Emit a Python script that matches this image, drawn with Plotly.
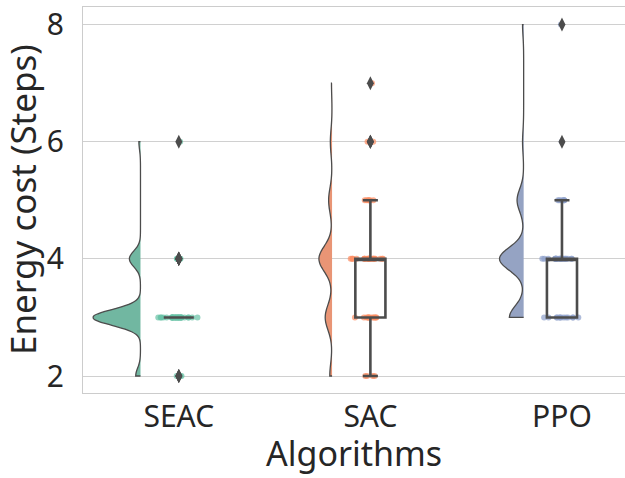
import numpy as np
import plotly.graph_objects as go

# ---- data ----
algorithms = ["SEAC", "SAC", "PPO"]
levels = [2, 3, 4, 5, 6, 7, 8]
seac_counts = [3, 30, 7, 0, 1, 0, 0]
sac_counts = [4, 12, 23, 6, 3, 1, 0]
ppo_counts = [0, 13, 22, 6, 1, 0, 1]
y_ticks = [2, 4, 6, 8]

# ---- styles ----
point_colors = ["#66c2a5", "#fc8d62", "#8da0cb"]
violin_fill = ["#71b7a1", "#e99575", "#95a3c3"]
violin_half = [0.245, 0.068, 0.125]
dark = "#4c4c4c"
grid = "#d0d0d0"
FONT = "Noto Sans"

samples = [np.repeat(levels, c).astype(float) for c in (seac_counts, sac_counts, ppo_counts)]

fig = go.Figure()

for i, (name, vals) in enumerate(zip(algorithms, samples)):
    bw = 0.2 * np.std(vals, ddof=1)
    fig.add_trace(go.Violin(
        x=np.full(len(vals), i - 0.2), y=vals, name=name,
        side="negative", spanmode="hard", bandwidth=bw,
        scalemode="width", width=2 * violin_half[i],
        fillcolor=violin_fill[i], opacity=1,
        line=dict(color=dark, width=1.3),
        points=False, box_visible=False, meanline_visible=False,
        showlegend=False, hoverinfo="skip",
    ))

for i, (name, vals) in enumerate(zip(algorithms, samples)):
    fig.add_trace(go.Box(
        x=np.full(len(vals), float(i)), y=vals, name=name,
        boxpoints="all", jitter=1, pointpos=0, width=0.22,
        fillcolor="rgba(0,0,0,0)", line=dict(width=0, color="rgba(0,0,0,0)"),
        marker=dict(color=point_colors[i], size=6, opacity=0.7,
                    line=dict(width=0)),
        showlegend=False, hoverinfo="y",
    ))

for i, (name, vals) in enumerate(zip(algorithms, samples)):
    fig.add_trace(go.Box(
        x=np.full(len(vals), float(i)), y=vals, name=name,
        boxpoints="outliers", jitter=0, pointpos=0, width=0.157,
        quartilemethod="linear", whiskerwidth=0.5,
        fillcolor="rgba(255,255,255,0)", line=dict(width=2.6, color=dark),
        marker=dict(color=dark, symbol="diamond-tall", size=10,
                    line=dict(width=0)),
        showlegend=False,
    ))

fig.update_layout(
    width=625, height=478,
    margin=dict(l=83, r=0, t=6.5, b=85),
    paper_bgcolor="white", plot_bgcolor="white",
    boxmode="overlay", violinmode="overlay",
    font=dict(family=FONT, color="#262626", size=30),
    xaxis=dict(
        range=[-0.5, 2.329], tickvals=[0, 1, 2], ticktext=algorithms,
        showgrid=False, zeroline=False, automargin=False,
        showline=True, mirror=True, linecolor="#cccccc", linewidth=1.3,
        ticks="", tickfont=dict(size=30), ticklabelstandoff=-3,
    ),
    yaxis=dict(
        range=[1.71, 8.30], tickvals=y_ticks,
        showgrid=True, gridcolor=grid, gridwidth=1.3, zeroline=False,
        automargin=False,
        showline=True, mirror=False, linecolor="#cccccc", linewidth=1.3,
        ticks="outside", ticklen=12, tickcolor="rgba(0,0,0,0)",
        tickfont=dict(size=30),
    ),
    annotations=[
        dict(text="Algorithms", xref="paper", yref="paper", x=0.5, y=0,
             xanchor="center", yanchor="middle", yshift=-60, showarrow=False,
             font=dict(size=34, family=FONT, color="#262626")),
        dict(text="Energy cost (Steps)", xref="paper", yref="paper", x=0, y=0.5,
             xanchor="center", yanchor="middle", xshift=-61, textangle=-90,
             showarrow=False, font=dict(size=35, family=FONT, color="#262626")),
    ],
)

fig.write_html("out.html", post_script="document.body.style.margin='0';",
               config={"displayModeBar": False})
